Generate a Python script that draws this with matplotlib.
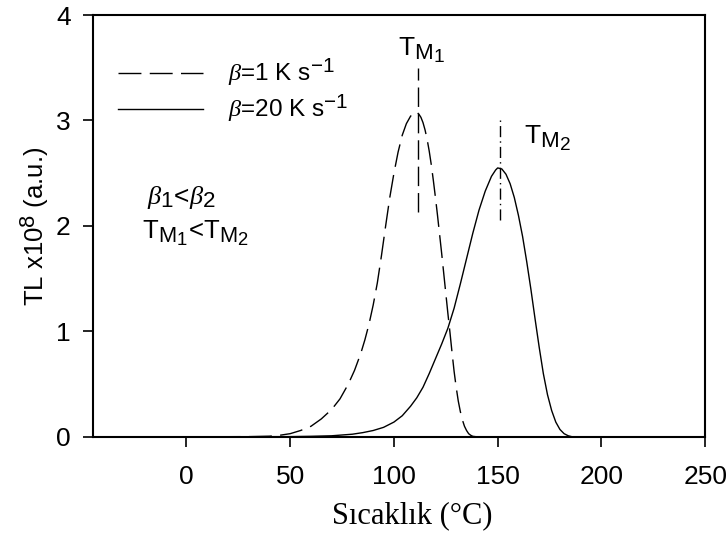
import matplotlib.pyplot as plt
import matplotlib._mathtext as mt

plt.rcParams['font.family'] = ['Liberation Sans', 'DejaVu Sans']
plt.rcParams['mathtext.fontset'] = 'custom'
plt.rcParams['mathtext.rm'] = 'Liberation Sans'
plt.rcParams['mathtext.it'] = 'Liberation Serif:italic'
plt.rcParams['mathtext.bf'] = 'Liberation Sans:bold'
# the original uses nearly full-size sub/superscripts
mt.SHRINK_FACTOR = 0.85

# beta = 1 K/s (dashed)
t1 = [0, 30, 40, 45, 50, 55, 60, 65, 70, 74, 78, 81, 84, 86, 88, 90, 92, 94,
      96, 98, 100, 102, 104, 106, 108, 110, 111, 112, 113, 114, 115, 116, 117,
      118, 119, 120, 121, 122, 123, 124, 125, 126, 127, 128, 129, 130, 131,
      132, 133, 134, 135, 136, 137, 138, 140, 200]
tl1 = [0, 0.002, 0.006, 0.015, 0.03, 0.06, 0.1, 0.17, 0.26, 0.36, 0.5, 0.63,
       0.79, 0.92, 1.07, 1.25, 1.46, 1.72, 2.0, 2.27, 2.5, 2.7, 2.86, 2.97,
       3.04, 3.08, 3.08, 3.06, 3.03, 2.98, 2.91, 2.82, 2.71, 2.58, 2.43, 2.27,
       2.1, 1.92, 1.74, 1.55, 1.36, 1.17, 0.99, 0.8, 0.62, 0.47, 0.34, 0.24,
       0.16, 0.1, 0.06, 0.03, 0.015, 0.005, 0, 0]

# beta = 20 K/s (solid)
t2 = [0, 50, 60, 70, 80, 85, 90, 95, 100, 104, 108, 111, 114, 117, 120, 123,
      126, 129, 132, 135, 138, 141, 144, 147, 149, 150, 152, 154, 156, 158,
      160, 162, 164, 166, 168, 170, 172, 174, 176, 178, 180, 182, 184, 186, 200]
tl2 = [0, 0.002, 0.005, 0.01, 0.025, 0.04, 0.06, 0.09, 0.14, 0.2, 0.29, 0.37,
       0.47, 0.6, 0.74, 0.88, 1.03, 1.22, 1.45, 1.69, 1.93, 2.15, 2.33, 2.47,
       2.53, 2.55, 2.54, 2.49, 2.4, 2.27, 2.1, 1.9, 1.66, 1.4, 1.12, 0.85, 0.6,
       0.4, 0.25, 0.14, 0.07, 0.03, 0.01, 0, 0]

tm1, tm1_span = 111.6, (2.13, 3.5)
tm2, tm2_span = 151.2, (2.06, 3.0)

fig = plt.figure(figsize=(7.27, 5.36), dpi=100)
ax = fig.add_axes([0.128, 0.185, 0.842, 0.787])

ax.plot(t1, tl1, color='black', lw=1.0, dashes=(16.5, 6), label=r'$\beta$=1 K s$^{-1}$')
ax.plot(t2, tl2, color='black', lw=1.0, label=r'$\beta$=20 K s$^{-1}$')

ax.vlines(tm1, *tm1_span, colors='black', lw=1.0, linestyles=(0, (14, 5)))
ax.vlines(tm2, *tm2_span, colors='black', lw=1.0, linestyles=(0, (8, 3, 1, 3)))

ax.text(113.1, 3.67, r'$\mathrm{T_{M_1}}$', fontsize=19, ha='center', va='center')
ax.text(174.1, 2.83, r'$\mathrm{T_{M_2}}$', fontsize=19, ha='center', va='center')
ax.text(-19, 2.27, r'$\beta_{\mathit{1}}$<$\beta_{\mathit{2}}$', fontsize=19, ha='left', va='center')
ax.text(-21.4, 1.93, r'$\mathrm{T_{M_1}}$<$\mathrm{T_{M_2}}$', fontsize=18.5, ha='left', va='center')

ax.legend(loc='upper left', frameon=False, fontsize=17.5, handlelength=3.5,
          handletextpad=1.0, labelspacing=0.2, borderpad=0, borderaxespad=0,
          bbox_to_anchor=(0.041, 0.9))

ax.set_xlim(-45, 250)
ax.set_ylim(0, 4)
ax.set_xticks([0, 50, 100, 150, 200, 250])
ax.set_yticks([0, 1, 2, 3, 4])
ax.tick_params(axis='x', direction='out', length=7, width=1.2, pad=13, labelsize=19)
ax.tick_params(axis='y', direction='out', length=7, width=1.2, pad=9, labelsize=19)
for s in ax.spines.values():
    s.set_linewidth(1.5)

ax.set_xlabel('Sıcaklık (°C)', family='Liberation Serif', fontsize=22)
ax.xaxis.set_label_coords(0.521, -0.152)
ax.set_ylabel(r'TL x10$^{8}$ (a.u.)', fontsize=18.5, labelpad=4)

fig.savefig('out.png', dpi=100)
